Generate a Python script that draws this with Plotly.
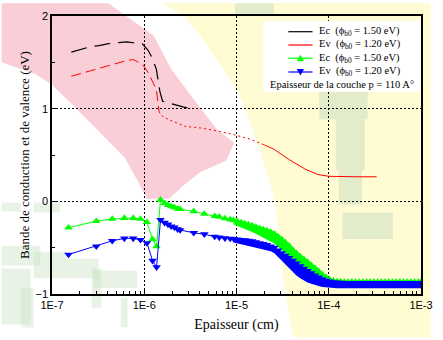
import plotly.graph_objects as go

# ---------------- data ----------------
# Ec (phi_b0 = 1.50 eV) : black line
ec_line_x = [1.62e-7, 2.63e-7, 3.24e-7, 3.98e-7, 4.90e-7, 6.46e-7, 9.55e-7,
             1.10e-6, 1.20e-6, 1.35e-6, 1.48e-6, 1.58e-6, 2.63e-6, 3.50e-6]
ec_line_y = [1.61, 1.67, 1.68, 1.70, 1.71, 1.72, 1.70,
             1.63, 1.56, 1.43, 1.18, 1.08, 1.02, 0.99]

# Ev (phi_b0 = 1.20 eV) : red line
ev_line_x = [1.62e-7, 2.63e-7, 3.55e-7, 5.13e-7, 6.46e-7, 7.59e-7, 9.55e-7,
             1.10e-6, 1.23e-6, 1.35e-6, 1.45e-6, 1.51e-6, 1.86e-6, 2.75e-6,
             4.17e-6, 6.17e-6, 9.33e-6, 1.41e-5, 2.00e-5, 2.57e-5, 3.72e-5,
             5.50e-5, 7.59e-5, 1.00e-4, 2.00e-4, 3.30e-4]
ev_line_y = [1.35, 1.41, 1.45, 1.49, 1.52, 1.53, 1.48,
             1.39, 1.29, 1.21, 0.97, 0.93, 0.88, 0.81,
             0.79, 0.76, 0.72, 0.67, 0.61, 0.56, 0.45,
             0.35, 0.29, 0.27, 0.265, 0.265]

# marker series: sparse part, then the dense part (thickness in cm)
mk_x_sparse = [1.51e-7, 3.02e-7, 4.50e-7, 6.08e-7, 7.60e-7, 9.10e-7, 1.07e-6, 1.23e-6,
               1.36e-6, 1.50e-6, 1.66e-6, 1.81e-6, 1.96e-6, 2.12e-6, 2.30e-6, 2.45e-6,
               3.44e-6, 4.48e-6, 5.80e-6, 6.50e-6, 7.50e-6, 8.55e-6]
mk_x_dense = [9.33e-6, 1.023e-5, 1.122e-5, 1.230e-5, 1.349e-5, 1.479e-5, 1.622e-5, 1.778e-5,
              1.950e-5, 2.138e-5, 2.344e-5, 2.570e-5, 2.818e-5, 3.090e-5, 3.388e-5, 3.715e-5,
              4.074e-5, 4.467e-5, 4.898e-5, 5.370e-5, 5.888e-5, 6.457e-5, 7.079e-5, 7.762e-5,
              8.511e-5, 9.333e-5, 1.023e-4, 1.122e-4, 1.230e-4, 1.349e-4, 1.479e-4, 1.622e-4,
              1.778e-4, 1.950e-4, 2.138e-4, 2.344e-4, 2.570e-4, 2.818e-4, 3.090e-4, 3.388e-4,
              3.715e-4, 4.074e-4, 4.467e-4, 4.898e-4, 5.370e-4, 5.888e-4, 6.457e-4, 7.079e-4,
              7.762e-4, 8.511e-4, 9.333e-4, 1.0e-3]

ec_mk_y_sparse = [-0.284, -0.214, -0.19, -0.18, -0.18, -0.19, -0.225, -0.41,
                  -0.485, 0.016, -0.02, -0.04, -0.055, -0.065, -0.08, -0.085,
                  -0.108, -0.136, -0.16, -0.167, -0.185, -0.196]
ec_mk_y_dense = [-0.205, -0.215, -0.228, -0.24, -0.25, -0.262, -0.275, -0.29,
                 -0.303, -0.316, -0.33, -0.35, -0.38, -0.41, -0.445, -0.48,
                 -0.525, -0.56, -0.595, -0.625, -0.655, -0.69, -0.72, -0.755,
                 -0.79, -0.82, -0.845, -0.858, -0.865, -0.868, -0.87, -0.87,
                 -0.87, -0.87, -0.87, -0.87, -0.87, -0.87, -0.87, -0.87,
                 -0.87, -0.87, -0.87, -0.87, -0.87, -0.87, -0.87, -0.87,
                 -0.87, -0.87, -0.87, -0.87]
# lower edge of the green ribbon in the dense part
ec_band_low = [-0.25, -0.265, -0.28, -0.295, -0.31, -0.33, -0.35, -0.37,
               -0.39, -0.41, -0.43, -0.455, -0.49, -0.53, -0.565, -0.60,
               -0.645, -0.675, -0.705, -0.735, -0.76, -0.785, -0.805, -0.828,
               -0.848, -0.862, -0.872, -0.878, -0.882, -0.884, -0.885, -0.885,
               -0.885, -0.885, -0.885, -0.885, -0.885, -0.885, -0.885, -0.885,
               -0.885, -0.885, -0.885, -0.885, -0.885, -0.885, -0.885, -0.885,
               -0.885, -0.885, -0.885, -0.885]

ev_mk_y_sparse = [-0.574, -0.485, -0.426, -0.40, -0.40, -0.415, -0.45, -0.64,
                  -0.71, -0.20, -0.23, -0.25, -0.27, -0.28, -0.30, -0.31,
                  -0.34, -0.355, -0.38, -0.39, -0.398, -0.402]
ev_mk_y_dense = [-0.405, -0.41, -0.415, -0.42, -0.425, -0.43, -0.44, -0.45,
                 -0.46, -0.47, -0.485, -0.50, -0.53, -0.56, -0.585, -0.61,
                 -0.64, -0.67, -0.70, -0.725, -0.75, -0.775, -0.80, -0.82,
                 -0.84, -0.855, -0.865, -0.872, -0.876, -0.878, -0.88, -0.88,
                 -0.88, -0.88, -0.88, -0.88, -0.88, -0.88, -0.88, -0.88,
                 -0.88, -0.88, -0.88, -0.88, -0.88, -0.88, -0.88, -0.88,
                 -0.88, -0.88, -0.88, -0.88]
# lower edge of the blue ribbon in the dense part
ev_band_low = [-0.445, -0.455, -0.465, -0.475, -0.485, -0.495, -0.50, -0.51,
               -0.52, -0.53, -0.54, -0.56, -0.60, -0.64, -0.68, -0.72,
               -0.765, -0.80, -0.83, -0.855, -0.875, -0.89, -0.905, -0.915,
               -0.925, -0.93, -0.935, -0.937, -0.937, -0.937, -0.937, -0.937,
               -0.937, -0.937, -0.937, -0.937, -0.937, -0.937, -0.937, -0.937,
               -0.937, -0.937, -0.937, -0.937, -0.937, -0.937, -0.937, -0.937,
               -0.937, -0.937, -0.937, -0.937]

x_tickvals = [1e-7, 1e-6, 1e-5, 1e-4, 1e-3]
x_ticktext = ["1E-7", "1E-6", "1E-5", "1E-4", "1E-3"]
y_tickvals = [-1, 0, 1, 2]

legend_labels = ["Ec\u00a0\u00a0(\u03d5<sub>b0</sub> = 1.50 eV)",
                 "Ev\u00a0\u00a0(\u03d5<sub>b0</sub> = 1.20 eV)",
                 "Ec\u00a0\u00a0(\u03d5<sub>b0</sub> = 1.50 eV)",
                 "Ev\u00a0\u00a0(\u03d5<sub>b0</sub> = 1.20 eV)"]
legend_note = "Epaisseur de la couche p = 110 A\u00b0"

# ---------------- geometry helpers (pixel -> paper) ----------------
W, H = 443, 340
ML, MR, MT, MB = 52, 10, 13, 44
PW, PH = W - ML - MR, H - MT - MB


def px(x):
    return (x - ML) / PW


def py(y):
    return (H - MB - y) / PH


def poly(points, color, layer="below"):
    path = "M " + " L ".join(f"{px(a):.4f},{py(b):.4f}" for a, b in points) + " Z"
    return dict(type="path", path=path, xref="paper", yref="paper",
                fillcolor=color, line=dict(width=0), layer=layer)


def rect(x0, y0, x1, y1, color, layer="below"):
    return dict(type="rect", xref="paper", yref="paper", x0=px(x0), x1=px(x1),
                y0=py(y1), y1=py(y0), fillcolor=color, line=dict(width=0), layer=layer)


SERIF = "Liberation Serif, Times New Roman, serif"
SANS = "Liberation Sans, Arial, sans-serif"
GREEN, BLUE, RED = "#00ff00", "#0000ff", "#ff0000"

fig = go.Figure()

# black Ec line
fig.add_trace(go.Scatter(x=ec_line_x, y=ec_line_y, mode="lines", name=legend_labels[0],
                         line=dict(color="black", width=1.2, dash="16px,8px"),
                         showlegend=False))
# red Ev line in three visual styles
seg = [(0, 11, "10px,5px"), (10, 19, "2px,3px"), (18, len(ev_line_x), "solid")]
for a, b, d in seg:
    fig.add_trace(go.Scatter(x=ev_line_x[a:b], y=ev_line_y[a:b], mode="lines",
                             name=legend_labels[1],
                             line=dict(color=RED, width=1, dash=d), showlegend=False))


def ribbon(xs, top, low, color, name):
    fig.add_trace(go.Scatter(x=xs, y=top, mode="lines", line=dict(width=0, color=color),
                             name=name, showlegend=False, hoverinfo="skip"))
    fig.add_trace(go.Scatter(x=xs, y=low, mode="lines", line=dict(width=0, color=color),
                             fill="tonexty", fillcolor=color, name=name,
                             showlegend=False, hoverinfo="skip"))


def markers(ys, color, symbol, name):
    fig.add_trace(go.Scatter(x=mk_x_sparse + mk_x_dense, y=ys, mode="lines+markers",
                             name=name, line=dict(color=color, width=1),
                             marker=dict(symbol=symbol, size=7.5, color=color,
                                         line=dict(width=0)),
                             showlegend=False))


ribbon(mk_x_dense, ec_mk_y_dense, ec_band_low, GREEN, legend_labels[2])
markers(ec_mk_y_sparse + ec_mk_y_dense, GREEN, "triangle-up", legend_labels[2])
ribbon(mk_x_dense, ev_mk_y_dense, ev_band_low, BLUE, legend_labels[3])
markers(ev_mk_y_sparse + ev_mk_y_dense, BLUE, "triangle-down", legend_labels[3])

# ---------------- background watermark ----------------
shapes = []
PINK = "#f9ced6"
YEL = "#fffcd3"
GRN = "rgba(205,228,200,0.45)"
GRY = "rgba(175,205,185,0.35)"
shapes.append(poly([(0, 0), (110, 0), (157, 33), (175, 67), (200, 100), (222, 128),
                    (240, 142), (232, 160), (205, 172), (187, 186), (173, 199),
                    (150, 199), (140, 180), (127, 157), (100, 130), (75, 105),
                    (52, 83), (35, 72), (0, 60)], PINK))
shapes.append(poly([(165, 0), (443, 0), (443, 340), (301, 340), (291, 280), (282, 200),
                    (270, 160), (258, 125), (245, 92), (225, 62), (203, 30),
                    (187, 12)], YEL))
for r in [(241, 0, 281, 13), (328, 87, 378, 118), (345, 118, 375, 170),
          (348, 170, 372, 205), (352, 213, 404, 240)]:
    shapes.append(rect(*r, GRY))
for r in [(0, 203, 20, 212), (33, 203, 60, 213), (0, 247, 40, 267), (33, 253, 67, 280),
          (67, 260, 100, 280), (95, 272, 140, 290), (0, 270, 30, 327),
          (93, 270, 103, 310), (123, 300, 130, 330), (20, 290, 33, 330)]:
    shapes.append(rect(*r, GRN))

# ---------------- legend (drawn by hand for the reference's tight spacing) ----------------
shapes.append(rect(270, 18, 432, 90, "white", layer="above"))
leg_y = [29, 42.5, 56, 70]
leg_col = ["black", RED, GREEN, BLUE]
for yy, c in zip(leg_y, leg_col):
    shapes.append(dict(type="line", xref="paper", yref="paper", x0=px(296), x1=px(321),
                       y0=py(yy), y1=py(yy), line=dict(color=c, width=1.2), layer="above"))
shapes.append(poly([(304.7, 59), (312.3, 59), (308.5, 52.5)], GREEN, layer="above"))
shapes.append(poly([(304.7, 67), (312.3, 67), (308.5, 73.5)], BLUE, layer="above"))

annotations = []
for yy, lab in zip(leg_y, legend_labels):
    annotations.append(dict(x=px(326), y=py(yy), xref="paper", yref="paper", text=lab,
                            showarrow=False, xanchor="left", yanchor="middle",
                            font=dict(family=SERIF, size=10.5, color="black")))
annotations.append(dict(x=px(351), y=py(83), xref="paper", yref="paper", text=legend_note,
                        showarrow=False, xanchor="center", yanchor="middle",
                        font=dict(family=SERIF, size=10.5, color="black")))

minor_x = [m * 10.0 ** e for e in range(-7, -3) for m in range(2, 10)]
GRID_DASH = "1.5px,2.5px"

fig.update_layout(
    width=W, height=H,
    margin=dict(l=ML, r=MR, t=MT, b=MB, pad=0),
    paper_bgcolor="white",
    plot_bgcolor="rgba(0,0,0,0)",
    showlegend=False,
    shapes=shapes,
    annotations=annotations,
    xaxis=dict(
        type="log", range=[-7, -3],
        tickmode="array", tickvals=x_tickvals, ticktext=x_ticktext,
        ticks="inside", ticklen=5, tickwidth=1, tickcolor="black",
        minor=dict(tickmode="array", tickvals=minor_x, ticks="inside", ticklen=3,
                   tickcolor="black", showgrid=False),
        showline=True, linecolor="black", linewidth=1.5, mirror=True,
        showgrid=True, gridcolor="black", griddash=GRID_DASH, gridwidth=1.2,
        zeroline=False,
        tickfont=dict(family=SANS, size=11, color="black"),
        title=dict(text="Epaisseur (cm)", font=dict(family=SERIF, size=14, color="black"),
                   standoff=9),
    ),
    yaxis=dict(
        range=[-1, 2], tickmode="array", tickvals=y_tickvals,
        ticks="inside", ticklen=5, tickwidth=1, tickcolor="black",
        minor=dict(dtick=0.5, tick0=0, ticks="inside", ticklen=3,
                   tickcolor="black", showgrid=False),
        showline=True, linecolor="black", linewidth=1.5, mirror=True,
        showgrid=True, gridcolor="black", griddash=GRID_DASH, gridwidth=1.2,
        zeroline=False,
        tickfont=dict(family=SANS, size=11, color="black"),
        title=dict(text="Bande de conduction et de valence (eV)",
                   font=dict(family=SERIF, size=13, color="black"), standoff=3),
    ),
)

fig.write_html("out.html")
